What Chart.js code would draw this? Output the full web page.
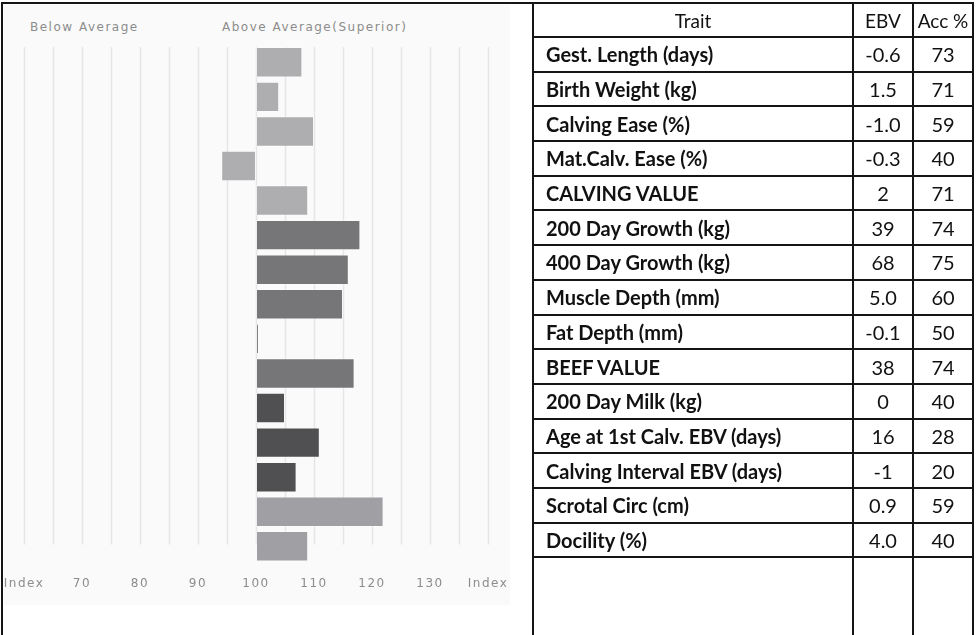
<!DOCTYPE html>
<html>
<head>
<meta charset="utf-8">
<script src="https://cdn.jsdelivr.net/npm/chart.js@4"></script>
<style>
    html, body { margin: 0; padding: 0; background: #fff; overflow: hidden; }
    #page { position: relative; width: 980px; height: 635px; overflow: hidden; }
    #frame { position: absolute; left: 1px; top: 2px; width: 532px; height: 640px;
             border-top: 2px solid #151515; border-left: 2px solid #151515; }
    #panel { position: absolute; left: 4px; top: 5px; width: 506px; height: 600px; background: #fafafa; }
    #chartWrap { position: absolute; left: -21px; top: 0; width: 554px; height: 605px; }
    .head { position: absolute; top: 20px; font: 12px "DejaVu Sans", sans-serif;
            letter-spacing: 1.5px; color: #8c8c8c; }
    table { position: absolute; left: 532px; top: 2px; border-collapse: collapse; table-layout: fixed;
            font-family: Lato, sans-serif; font-size: 20px; color: #111; }
    td { border: 2px solid #151515; padding: 0; height: 32.7px; text-align: center; white-space: nowrap; }
    td.trait { text-align: left; padding-left: 12px; font-weight: bold; }
    tr.hdr td { height: 32px; font-size: 19px; }
    tr.blank td { height: 100px; border-bottom: none; }
</style>
</head>
<body>
<div id="page">
    <div id="frame"></div>
    <div id="panel"></div>
    <div class="head" style="left:30px">Below Average</div>
    <div class="head" style="left:222px">Above Average(Superior)</div>
    <div id="chartWrap"><canvas id="ebvChart" width="554" height="605"></canvas></div>
    <table id="ebvTable">
        <colgroup><col style="width:320px"><col style="width:60px"><col style="width:60px"></colgroup>
        <tbody></tbody>
    </table>
</div>
<script>
// 性狀名稱
const traits = [
    'Gest. Length (days)', 'Birth Weight (kg)', 'Calving Ease (%)', 'Mat.Calv. Ease (%)',
    'CALVING VALUE', '200 Day Growth (kg)', '400 Day Growth (kg)', 'Muscle Depth (mm)',
    'Fat Depth (mm)', 'BEEF VALUE', '200 Day Milk (kg)', 'Age at 1st Calv. EBV (days)',
    'Calving Interval EBV (days)', 'Scrotal Circ (cm)', 'Docility (%)'
];
const ebv = ['-0.6', '1.5', '-1.0', '-0.3', '2', '39', '68', '5.0', '-0.1', '38', '0', '16', '-1', '0.9', '4.0'];
const accuracy = [73, 71, 59, 40, 71, 74, 75, 60, 50, 74, 40, 28, 20, 59, 40];

// 指數 (100 = 平均)
const indexValues = [108, 104, 110, 94, 109, 118, 116, 115, 100.5, 117, 105, 111, 107, 122, 109];
const traitGroup = [0, 0, 0, 0, 0, 1, 1, 1, 1, 1, 2, 2, 2, 3, 3];
const baseIndex = 100;

// x軸刻度
const tickValues = [60, 70, 80, 90, 100, 110, 120, 130, 140];
const tickLabels = ['Index', '70', '80', '90', '100', '110', '120', '130', 'Index'];

const groupColors = ['#aeaeb1', '#767678', '#505052', '#a0a0a4'];

// 表格
const tbody = document.querySelector('#ebvTable tbody');
let html = '<tr class="hdr"><td>Trait</td><td>EBV</td><td>Acc %</td></tr>';
traits.forEach(function(t, i) {
    html += '<tr><td class="trait">' + t + '</td><td>' + ebv[i] + '</td><td>' + accuracy[i] + '</td></tr>';
});
html += '<tr class="blank"><td></td><td></td><td></td></tr>';
tbody.innerHTML = html;

// 字距
const spacingPlugin = {
    id: 'spacing',
    beforeLayout(chart) { chart.ctx.letterSpacing = '1.5px'; },
    beforeDraw(chart) { chart.ctx.letterSpacing = '1.5px'; }
};

// 垂直格線 (每5個單位)
const gridPlugin = {
    id: 'shortGrid',
    beforeDatasetsDraw(chart) {
        const x = chart.scales.x;
        const area = chart.chartArea;
        const ctx = chart.ctx;
        ctx.save();
        ctx.strokeStyle = '#e6e6e6';
        ctx.lineWidth = 1.5;
        for (let v = x.min; v <= x.max; v += 5) {
            const px = Math.round(x.getPixelForValue(v)) + 0.5;
            ctx.beginPath();
            ctx.moveTo(px, area.top + 2);
            ctx.lineTo(px, area.bottom - 19);
            ctx.stroke();
        }
        ctx.restore();
    }
};

Chart.defaults.font.family = '"DejaVu Sans", sans-serif';
Chart.defaults.font.size = 12;
Chart.defaults.color = '#8c8c8c';

new Chart(document.getElementById('ebvChart'), {
    type: 'bar',
    data: {
        labels: traits,
        datasets: [{
            data: indexValues.map(function(v) { return [baseIndex, v]; }),
            backgroundColor: traitGroup.map(function(g) { return groupColors[g]; }),
            borderColor: 'rgba(255,255,255,0.3)',
            borderWidth: 1,
            borderSkipped: false,
            barPercentage: 0.88,
            categoryPercentage: 1
        }]
    },
    options: {
        indexAxis: 'y',
        responsive: false,
        animation: false,
        layout: { padding: { left: 45, right: 45, top: 45, bottom: 1 } },
        plugins: {
            legend: { display: false },
            tooltip: { enabled: false }
        },
        scales: {
            x: {
                type: 'linear',
                min: tickValues[0],
                max: tickValues[tickValues.length - 1],
                afterBuildTicks: function(scale) {
                    scale.ticks = tickValues.map(function(v) { return { value: v }; });
                },
                ticks: {
                    autoSkip: false,
                    maxRotation: 0,
                    padding: 13,
                    callback: function(v) { return tickLabels[tickValues.indexOf(v)]; }
                },
                grid: { display: false, drawTicks: false },
                border: { display: false }
            },
            y: { display: false }
        }
    },
    plugins: [spacingPlugin, gridPlugin]
});
</script>
</body>
</html>
